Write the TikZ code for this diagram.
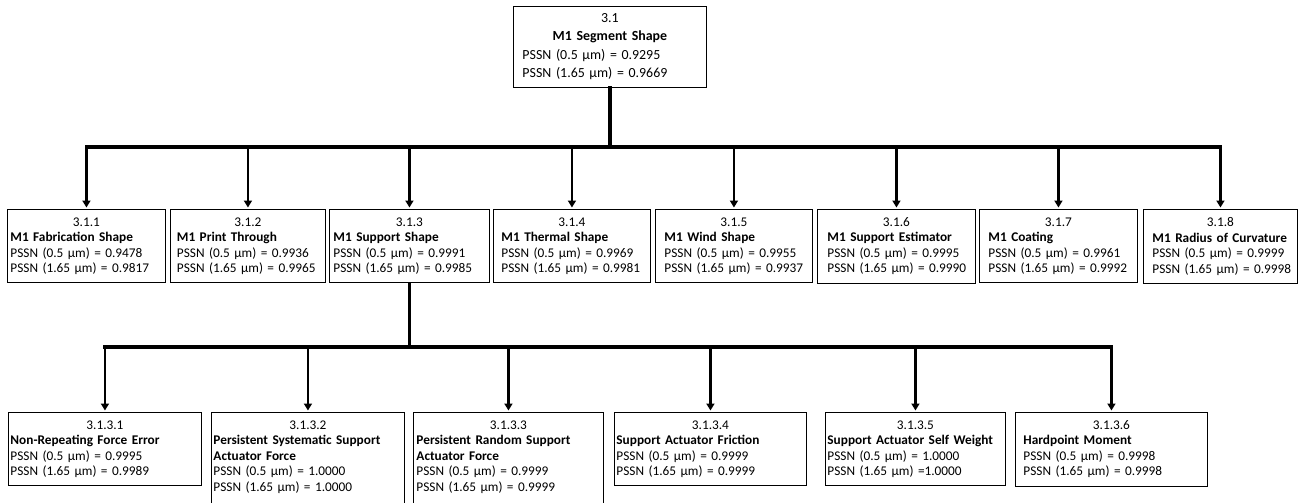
\documentclass[tikz,border=0pt]{standalone}
\usepackage{fontspec}
\setmainfont{Carlito}
\usetikzlibrary{arrows.meta}

\newcommand\pssn[2]{\mbox{PSSN (#1~µm) = #2}}
\newcommand\ttl[1]{\mbox{\bfseries #1}}
\newcommand\boxno[1]{\hfill#1\hfill\null}

\tikzset{
  orgbox/.style={draw, line width=0.9pt, anchor=north west, align=left, inner ysep=8pt,
    font=\fontsize{13.3}{15.5}\selectfont},
  headbox/.style={orgbox, inner ysep=7pt, font=\fontsize{13.9}{18.5}\selectfont},
  bus/.style={line width=3.2pt, line cap=rect},
  feed/.style={line width=2.2pt, -{Triangle[length=7pt,width=8pt]}, shorten >=1.5pt},
}

\begin{document}
\begin{tikzpicture}[x=1pt,y=-1pt]
\useasboundingbox (0,0) rectangle (1299,503);

% top level
\node[headbox, text width=175pt, inner xsep=9pt] (n31) at (513,6)
  {\boxno{3.1}\\\boxno{\ttl{M1 Segment Shape}}\\\pssn{0.5}{0.9295}\\\pssn{1.65}{0.9669}};

% second level
\node[orgbox, text width=152pt, inner xsep=3pt] (n311) at (7,209)
  {\boxno{3.1.1}\\\ttl{M1 Fabrication Shape}\\\pssn{0.5}{0.9478}\\\pssn{1.65}{0.9817}};
\node[orgbox, text width=142pt, inner xsep=6.5pt] (n312) at (170,209)
  {\boxno{3.1.2}\\\ttl{M1 Print Through}\\\pssn{0.5}{0.9936}\\\pssn{1.65}{0.9965}};
\node[orgbox, text width=152pt, inner xsep=4pt] (n313) at (329,209)
  {\boxno{3.1.3}\\\ttl{M1 Support Shape}\\\pssn{0.5}{0.9991}\\\pssn{1.65}{0.9985}};
\node[orgbox, text width=141pt, inner xsep=8pt] (n314) at (493,209)
  {\boxno{3.1.4}\\\ttl{M1 Thermal Shape}\\\pssn{0.5}{0.9969}\\\pssn{1.65}{0.9981}};
\node[orgbox, text width=139pt, inner xsep=9pt] (n315) at (655,209)
  {\boxno{3.1.5}\\\ttl{M1 Wind Shape}\\\pssn{0.5}{0.9955}\\\pssn{1.65}{0.9937}};
\node[orgbox, text width=138pt, inner xsep=10pt] (n316) at (817,209)
  {\boxno{3.1.6}\\\ttl{M1 Support Estimator}\\\pssn{0.5}{0.9995}\\\pssn{1.65}{0.9990}};
\node[orgbox, text width=140pt, inner xsep=9pt] (n317) at (979,209)
  {\boxno{3.1.7}\\\ttl{M1 Coating}\\\pssn{0.5}{0.9961}\\\pssn{1.65}{0.9992}};
\node[orgbox, text width=136pt, inner xsep=9pt] (n318) at (1143,209)
  {\boxno{3.1.8}\\\ttl{M1 Radius of Curvature}\\\pssn{0.5}{0.9999}\\\pssn{1.65}{0.9998}};

% third level (under 3.1.3)
\node[orgbox, text width=189pt, inner xsep=2pt] (n3131) at (8,412)
  {\boxno{3.1.3.1}\\\ttl{Non-Repeating Force Error}\\\pssn{0.5}{0.9995}\\\pssn{1.65}{0.9989}};
\node[orgbox, text width=189pt, inner xsep=2pt, text depth=75pt] (n3132) at (211,412)
  {\boxno{3.1.3.2}\\\ttl{Persistent Systematic Support}\\\ttl{Actuator Force}\\\pssn{0.5}{1.0000}\\\pssn{1.65}{1.0000}};
\node[orgbox, text width=184pt, inner xsep=3pt, text depth=75pt] (n3133) at (413,412)
  {\boxno{3.1.3.3}\\\ttl{Persistent Random Support}\\\ttl{Actuator Force}\\\pssn{0.5}{0.9999}\\\pssn{1.65}{0.9999}};
\node[orgbox, text width=188pt, inner xsep=2pt] (n3134) at (614,412)
  {\boxno{3.1.3.4}\\\ttl{Support Actuator Friction}\\\pssn{0.5}{0.9999}\\\pssn{1.65}{0.9999}};
\node[orgbox, text width=176pt, inner xsep=2pt] (n3135) at (825,412)
  {\boxno{3.1.3.5}\\\ttl{Support Actuator Self Weight}\\\pssn{0.5}{1.0000}\\\mbox{PSSN (1.65~µm) =1.0000}};
\node[orgbox, text width=176pt, inner xsep=8pt] (n3136) at (1015,412)
  {\boxno{3.1.3.6}\\\ttl{Hardpoint Moment}\\\pssn{0.5}{0.9998}\\\pssn{1.65}{0.9998}};

% connectors
\coordinate (bus1) at (0,147);
\coordinate (bus2) at (0,347);
\draw[bus] (n31.south) -- (n31.south |- bus1);
\draw[bus] (n311.north |- bus1) -- (n318.north |- bus1);
\foreach \n in {n311,n312,n313,n314,n315,n316,n317,n318}
  \draw[feed] (\n.north |- bus1) -- (\n.north);
\draw[bus] (n313.south) -- (n313.south |- bus2);
\draw[bus] (n3131.north |- bus2) -- (n3136.north |- bus2);
\foreach \n in {n3131,n3132,n3133,n3134,n3135,n3136}
  \draw[feed] (\n.north |- bus2) -- (\n.north);
\end{tikzpicture}
\end{document}
